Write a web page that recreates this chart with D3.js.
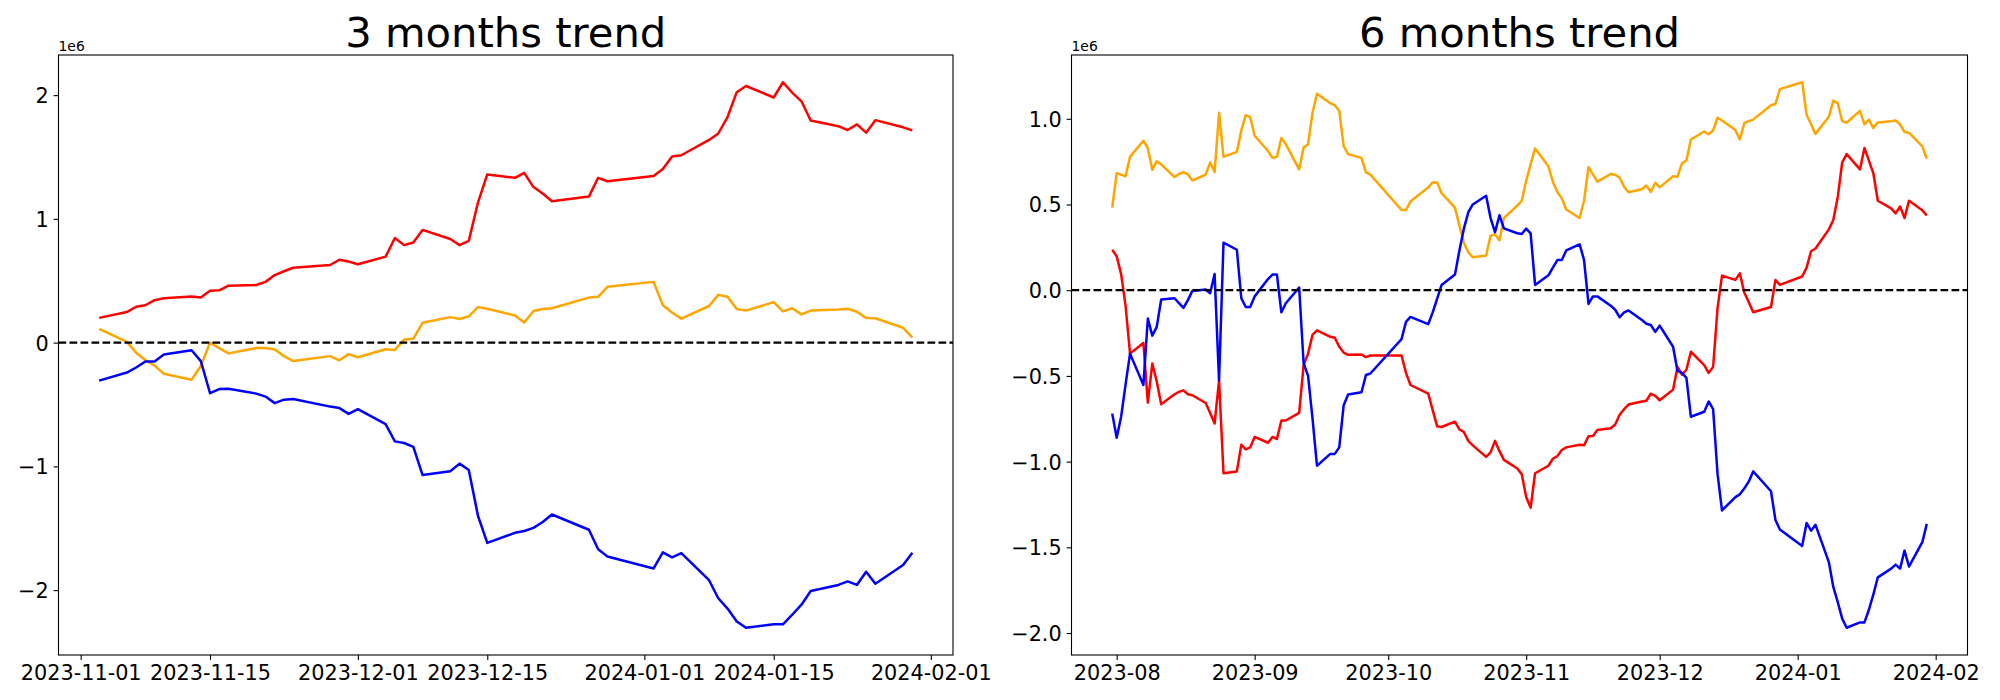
<!DOCTYPE html>
<html>
<head>
<meta charset="utf-8">
<script src="https://cdn.jsdelivr.net/npm/d3@7"></script>
<style>
  html, body { margin: 0; padding: 0; background: #fff; }
  svg { display: block; font-family: "DejaVu Sans", sans-serif; }
</style>
</head>
<body>
<svg id="chart" width="2000" height="700"></svg>
<script>
// ---------------- DATA ----------------
const titles = ["3 months trend", "6 months trend"];

// 3 months
const dates3 = [
  "2023-11-03","2023-11-06","2023-11-07","2023-11-08","2023-11-09","2023-11-10",
  "2023-11-13","2023-11-14","2023-11-15","2023-11-16","2023-11-17",
  "2023-11-20","2023-11-21","2023-11-22","2023-11-23","2023-11-24",
  "2023-11-28","2023-11-29","2023-11-30",
  "2023-12-01","2023-12-04","2023-12-05","2023-12-06","2023-12-07","2023-12-08",
  "2023-12-11","2023-12-12","2023-12-13","2023-12-14","2023-12-15",
  "2023-12-18","2023-12-19","2023-12-20","2023-12-21","2023-12-22",
  "2023-12-26","2023-12-27","2023-12-28",
  "2024-01-02","2024-01-03","2024-01-04","2024-01-05",
  "2024-01-08","2024-01-09","2024-01-10","2024-01-11","2024-01-12",
  "2024-01-15","2024-01-16","2024-01-17","2024-01-18","2024-01-19",
  "2024-01-22","2024-01-23","2024-01-24","2024-01-25","2024-01-26",
  "2024-01-29","2024-01-30"
];
const red3 = [
  0.200,0.247,0.290,0.302,0.343,0.358, 0.373,0.364,0.420,0.423,0.460,
  0.466,0.491,0.546,0.577,0.605, 0.627,0.670,0.655,
  0.633,0.695,0.846,0.788,0.809,0.911, 0.837,0.788,0.822,1.134,1.359,
  1.332,1.372,1.257,1.205,1.143, 1.180,1.332,1.304,
  1.347,1.403,1.505,1.514, 1.638,1.690,1.823,2.024,2.074,
  1.981,2.104,2.021,1.950,1.795, 1.749,1.718,1.764,1.697,1.798, 1.740,1.715
];
const orange3 = [
  0.111,0.006,-0.081,-0.140,-0.186,-0.251, -0.300,-0.189,0.000,-0.044,-0.087,
  -0.044,-0.044,-0.056,-0.109,-0.149, -0.109,-0.143,-0.093,
  -0.118,-0.053,-0.059,0.024,0.033,0.160, 0.206,0.191,0.213,0.287,0.274,
  0.219,0.163,0.256,0.271,0.278, 0.364,0.370,0.451,
  0.491,0.302,0.244,0.194, 0.296,0.386,0.370,0.271,0.259,
  0.327,0.253,0.278,0.228,0.259, 0.268,0.274,0.250,0.200,0.197, 0.120,0.043
];
const blue3 = [
  -0.307,-0.242,-0.201,-0.152,-0.152,-0.096, -0.062,-0.149,-0.409,-0.375,-0.372,
  -0.412,-0.436,-0.489,-0.461,-0.455, -0.517,-0.529,-0.576,
  -0.538,-0.659,-0.798,-0.811,-0.842,-1.070, -1.039,-0.978,-1.030,-1.401,-1.618,
  -1.537,-1.522,-1.497,-1.450,-1.389, -1.512,-1.670,-1.729,
  -1.825,-1.695,-1.735,-1.701, -1.920,-2.066,-2.149,-2.254,-2.304,
  -2.276,-2.276,-2.199,-2.118,-2.007, -1.958,-1.930,-1.958,-1.852,-1.948, -1.797,-1.698
];

// 6 months
const dates6 = [
  "2023-07-31","2023-08-01","2023-08-02","2023-08-03","2023-08-04",
  "2023-08-07","2023-08-08","2023-08-09","2023-08-10","2023-08-11",
  "2023-08-14","2023-08-15","2023-08-16","2023-08-17","2023-08-18",
  "2023-08-21","2023-08-22","2023-08-23","2023-08-24","2023-08-25",
  "2023-08-28","2023-08-29","2023-08-30","2023-08-31","2023-09-01",
  "2023-09-04","2023-09-05","2023-09-06","2023-09-07","2023-09-08",
  "2023-09-11","2023-09-12","2023-09-13","2023-09-14",
  "2023-09-15","2023-09-18","2023-09-19","2023-09-20","2023-09-21","2023-09-22",
  "2023-09-25","2023-09-26","2023-09-27",
  "2023-10-04","2023-10-05","2023-10-06",
  "2023-10-10","2023-10-11","2023-10-12","2023-10-13",
  "2023-10-16","2023-10-17","2023-10-18","2023-10-19","2023-10-20",
  "2023-10-23","2023-10-24","2023-10-25","2023-10-26","2023-10-27",
  "2023-10-30",
  "2023-10-31","2023-11-01","2023-11-02","2023-11-03",
  "2023-11-06","2023-11-07","2023-11-08","2023-11-09","2023-11-10",
  "2023-11-13","2023-11-14","2023-11-15","2023-11-16","2023-11-17",
  "2023-11-20","2023-11-21","2023-11-22","2023-11-23","2023-11-24",
  "2023-11-27","2023-11-28","2023-11-29","2023-11-30","2023-12-01",
  "2023-12-04","2023-12-05","2023-12-06","2023-12-07","2023-12-08",
  "2023-12-11","2023-12-12","2023-12-13","2023-12-14","2023-12-15",
  "2023-12-18","2023-12-19","2023-12-20","2023-12-21","2023-12-22",
  "2023-12-26","2023-12-27","2023-12-28",
  "2024-01-02","2024-01-03","2024-01-04","2024-01-05",
  "2024-01-08","2024-01-09","2024-01-10","2024-01-11","2024-01-12",
  "2024-01-15","2024-01-16","2024-01-17","2024-01-18","2024-01-19",
  "2024-01-22","2024-01-23","2024-01-24","2024-01-25","2024-01-26",
  "2024-01-29","2024-01-30"
];
const orange6 = [
  0.482,0.682,0.674,0.665,0.778, 0.872,0.827,0.702,0.752,0.734,
  0.660,0.678,0.689,0.676,0.640, 0.674,0.745,0.689,1.035,0.778,
  0.807,0.932,1.021,1.010,0.901, 0.812,0.772,0.778,0.888,0.852,
  0.705,0.832,0.852,1.035,
  1.146,1.091,1.079,1.046,0.841,0.794, 0.772,0.687,0.674,
  0.468,0.468,0.517, 0.600,0.629,0.629,0.566,
  0.482,0.377,0.277,0.221,0.192, 0.203,0.317,0.326,0.292,0.421, 0.493,
  0.522,0.638,0.734,0.827, 0.723,0.633,0.573,0.537,0.471,
  0.421,0.522,0.718,0.676,0.633, 0.678,0.674,0.656,0.604,0.571,
  0.589,0.611,0.573,0.627,0.600, 0.665,0.662,0.740,0.756,0.879,
  0.926,0.910,0.932,1.006,0.990,
  0.934,0.879,0.975,0.986,0.995, 1.079,1.086,1.173,
  1.213,1.024,0.968,0.912, 1.012,1.106,1.091,0.986,0.977,
  1.046,0.968,0.995,0.946,0.979, 0.986,0.990,0.968,0.923,0.919, 0.839,0.767
];
const red6 = [
  0.236,0.198,0.094,-0.091,-0.370, -0.308,-0.656,-0.428,-0.533,-0.665,
  -0.607,-0.593,-0.584,-0.607,-0.613, -0.658,-0.716,-0.778,-0.526,-1.068,
  -1.057,-0.901,-0.928,-0.917,-0.856, -0.890,-0.856,-0.868,-0.760,-0.760,
  -0.716,-0.437,-0.370,-0.260,
  -0.234,-0.272,-0.277,-0.330,-0.364,-0.377, -0.375,-0.390,-0.381,
  -0.381,-0.482,-0.553, -0.604,-0.700,-0.794,-0.798,
  -0.767,-0.812,-0.827,-0.879,-0.905, -0.972,-0.946,-0.879,-0.939,-0.990, -1.040,
  -1.073,-1.207,-1.269,-1.068, -1.024,-0.983,-0.968,-0.932,-0.917,
  -0.901,-0.905,-0.852,-0.850,-0.816, -0.805,-0.783,-0.727,-0.694,-0.667,
  -0.649,-0.645,-0.604,-0.616,-0.642, -0.580,-0.448,-0.493,-0.464,-0.359,
  -0.437,-0.482,-0.448,-0.103,0.085,
  0.060,0.098,-0.013,-0.069,-0.129, -0.098,0.060,0.031,
  0.080,0.132,0.227,0.243, 0.355,0.410,0.544,0.745,0.794,
  0.705,0.830,0.756,0.682,0.522, 0.477,0.448,0.488,0.421,0.522, 0.466,0.437
];
const blue6 = [
  -0.720,-0.861,-0.738,-0.549,-0.370, -0.553,-0.165,-0.265,-0.214,-0.054,
  -0.047,-0.076,-0.103,-0.058,-0.004, 0.004,-0.018,0.094,-0.526,0.277,
  0.236,-0.047,-0.098,-0.098,-0.036, 0.065,0.091,0.091,-0.129,-0.076,
  0.016,-0.426,-0.500,-0.749,
  -1.024,-0.955,-0.955,-0.917,-0.671,-0.609, -0.595,-0.495,-0.486,
  -0.285,-0.185,-0.156, -0.198,-0.129,-0.049,0.031,
  0.091,0.232,0.359,0.455,0.500, 0.551,0.421,0.339,0.437,0.361, 0.332,
  0.328,0.359,0.332,0.031, 0.087,0.132,0.176,0.176,0.232,
  0.268,0.176,-0.080,-0.036,-0.036, -0.091,-0.114,-0.158,-0.129,-0.118,
  -0.174,-0.196,-0.203,-0.243,-0.207, -0.330,-0.471,-0.482,-0.511,-0.738,
  -0.709,-0.649,-0.694,-1.073,-1.285,
  -1.207,-1.191,-1.157,-1.117,-1.057, -1.173,-1.340,-1.396,
  -1.492,-1.358,-1.403,-1.369, -1.586,-1.731,-1.820,-1.916,-1.969,
  -1.938,-1.938,-1.864,-1.775,-1.675, -1.624,-1.601,-1.624,-1.519,-1.612, -1.470,-1.363
];

const xTicks3 = ["2023-11-01","2023-11-15","2023-12-01","2023-12-15","2024-01-01","2024-01-15","2024-02-01"];
const xTicks6 = ["2023-08-01","2023-09-01","2023-10-01","2023-11-01","2023-12-01","2024-01-01","2024-02-01"];
const yTicks3 = [-2, -1, 0, 1, 2];
const yTicks6 = [-2.0, -1.5, -1.0, -0.5, 0.0, 0.5, 1.0];
const offsetLabel = "1e6";
const seriesColors = ["red", "orange", "blue"];

// ---------------- DRAW ----------------
const svg = d3.select("#chart");
const parse = d3.utcParse("%Y-%m-%d");

const panels = [
  { title: titles[0], dates: dates3, series: [red3, orange3, blue3],
    xTicks: xTicks3, xFmt: d3.utcFormat("%Y-%m-%d"),
    yTicks: yTicks3, yFmt: d3.format("d"),
    left: 58.5, right: 953, top: 55, bottom: 655 },
  { title: titles[1], dates: dates6, series: [red6, orange6, blue6],
    xTicks: xTicks6, xFmt: d3.utcFormat("%Y-%m"),
    yTicks: yTicks6, yFmt: d3.format(".1f"),
    left: 1071.5, right: 1967.5, top: 55, bottom: 655 }
];

const FS_TICK = 20.8, FS_TITLE = 41.7, FS_OFF = 13.9;

panels.forEach((p, pi) => {
  const dts = p.dates.map(parse);
  const t0 = d3.min(dts).getTime(), t1 = d3.max(dts).getTime();
  const tm = (t1 - t0) * 0.05;
  const x = d3.scaleUtc().domain([new Date(t0 - tm), new Date(t1 + tm)]).range([p.left, p.right]);
  const all = p.series.flat();
  const v0 = d3.min(all), v1 = d3.max(all), vm = (v1 - v0) * 0.05;
  const y = d3.scaleLinear().domain([v0 - vm, v1 + vm]).range([p.bottom, p.top]);

  const g = svg.append("g");
  const clipId = "clip" + pi;
  g.append("clipPath").attr("id", clipId).append("rect")
    .attr("x", p.left).attr("y", p.top)
    .attr("width", p.right - p.left).attr("height", p.bottom - p.top);

  const plot = g.append("g").attr("clip-path", `url(#${clipId})`);
  const line = d3.line().x((d, i) => x(dts[i])).y(d => y(d));
  p.series.forEach((s, si) => {
    plot.append("path").datum(s)
      .attr("d", line)
      .attr("fill", "none")
      .attr("stroke", seriesColors[si])
      .attr("stroke-width", 2.5)
      .attr("stroke-linejoin", "round")
      .attr("stroke-linecap", "butt");
  });
  // zero reference line
  plot.append("line")
    .attr("x1", p.left).attr("x2", p.right)
    .attr("y1", y(0)).attr("y2", y(0))
    .attr("stroke", "black").attr("stroke-width", 2.3)
    .attr("stroke-dasharray", "7.7,3.3");

  // axes
  const xAxis = d3.axisBottom(x).tickValues(p.xTicks.map(parse)).tickFormat(p.xFmt)
    .tickSize(4.9).tickPadding(4.9);
  const gx = g.append("g").attr("transform", `translate(0,${p.bottom})`).call(xAxis);
  const yAxis = d3.axisLeft(y).tickValues(p.yTicks).tickFormat(p.yFmt)
    .tickSize(4.9).tickPadding(4.9);
  const gy = g.append("g").attr("transform", `translate(${p.left},0)`).call(yAxis);
  [gx, gy].forEach(ax => {
    ax.select(".domain").remove();
    ax.selectAll(".tick line").attr("stroke", "black").attr("stroke-width", 1.1);
    ax.selectAll(".tick text").attr("fill", "black")
      .style("font-family", "'DejaVu Sans', sans-serif").style("font-size", FS_TICK + "px");
  });
  gy.selectAll(".tick text").attr("dy", "0.36em");

  // frame
  g.append("rect")
    .attr("x", p.left).attr("y", p.top)
    .attr("width", p.right - p.left).attr("height", p.bottom - p.top)
    .attr("fill", "none").attr("stroke", "black").attr("stroke-width", 1.1);

  // offset text
  g.append("text").attr("x", p.left).attr("y", p.top - 4)
    .style("font-size", FS_OFF + "px").attr("fill", "black")
    .text(offsetLabel);

  // title
  g.append("text").attr("x", (p.left + p.right) / 2).attr("y", p.top - 8.3)
    .attr("text-anchor", "middle").style("font-size", FS_TITLE + "px").attr("fill", "black")
    .text(p.title);
});
</script>
</body>
</html>
